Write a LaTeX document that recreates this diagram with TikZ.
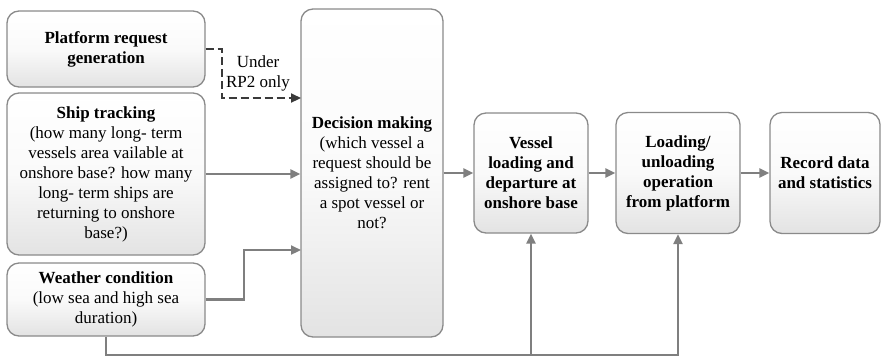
\documentclass[tikz,border=0pt]{standalone}
\usepackage{fontspec}
\setmainfont{Liberation Serif}
\usetikzlibrary{arrows.meta}
\definecolor{boxline}{HTML}{8A8A8A}
\definecolor{arrowgray}{HTML}{7F7F7F}
\definecolor{dashgray}{HTML}{3A3A3A}
\tikzset{
  procbox/.style={draw=boxline, line width=1.3pt, rounded corners=12pt,
    top color=white, bottom color=black!11, middle color=black!2, align=center,
    inner sep=2pt, font=\fontsize{17}{20}\selectfont},
  flowarrow/.style={draw=arrowgray, line width=2.2pt,
    -{Triangle[length=10pt,width=9pt]}},
  dasharrow/.style={draw=dashgray, line width=2.2pt, dash pattern=on 8pt off 4pt,
    -{Triangle[length=10pt,width=9pt]}},
  lbl/.style={align=center, font=\fontsize{17}{20}\selectfont, inner sep=0pt}
}
\begin{document}
\begin{tikzpicture}[x=1pt,y=-1pt]
\useasboundingbox (0,0) rectangle (882,357);
\node[procbox, minimum width=198pt, minimum height=76pt] (plat) at (106,49)
  {\textbf{Platform request}\\\textbf{generation}};
\node[procbox, minimum width=198pt, minimum height=162pt] (ship) at (106,174)
  {\textbf{Ship tracking}\\(how many long- term\\vessels area vailable at\\onshore base? how many\\long- term ships are\\returning to onshore\\base?)};
\node[procbox, minimum width=198pt, minimum height=73pt] (weather) at (106,299.5)
  {\textbf{Weather condition}\\(low sea and high sea\\duration)};
\node[procbox, minimum width=142pt, minimum height=328pt] (dec) at (372,173)
  {\textbf{Decision making}\\(which vessel a\\request should be\\assigned to? rent\\a spot vessel or\\not?};
\node[procbox, minimum width=114pt, minimum height=120pt] (vessel) at (531,173)
  {\textbf{Vessel}\\\textbf{loading and}\\\textbf{departure at}\\\textbf{onshore base}};
\node[procbox, minimum width=124pt, minimum height=121pt] (load) at (678,173)
  {\textbf{Loading/}\\\textbf{unloading}\\\textbf{operation}\\\textbf{from platform}};
\node[procbox, minimum width=110pt, minimum height=121pt] (rec) at (825,173)
  {\textbf{Record data}\\\textbf{and statistics}};
\node[lbl] (under) at (258,73) {Under\\RP2 only};
\coordinate (dashin) at (301,98);
\coordinate (weatherin) at (301,250);
\coordinate (bottom) at (106,355);
\draw[dasharrow] (plat.east) -- ++(16,0) |- (dashin);
\draw[flowarrow] (ship.east) -- (dec.west |- ship.east);
\draw[flowarrow] (weather.east) -- ++(38,0) |- (weatherin);
\draw[flowarrow] (dec.east) -- (vessel.west);
\draw[flowarrow] (vessel.east) -- (load.west);
\draw[flowarrow] (load.east) -- (rec.west);
\draw[flowarrow] (weather.south) -- (bottom) -| (load.south);
\draw[flowarrow] (vessel.south |- bottom) -- (vessel.south);
\end{tikzpicture}
\end{document}
